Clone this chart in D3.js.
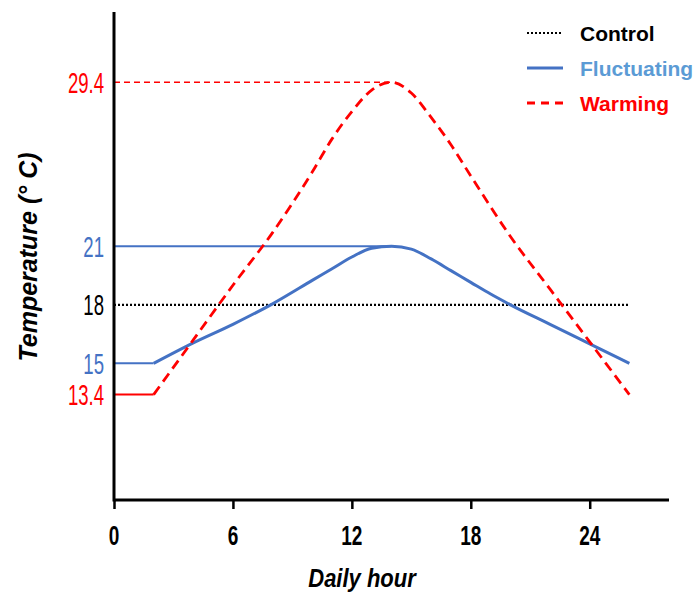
<!DOCTYPE html>
<html>
<head>
<meta charset="utf-8">
<script src="https://cdn.jsdelivr.net/npm/d3@7"></script>
<style>
  body { margin: 0; background: #fff; }
  svg { display: block; }
</style>
</head>
<body>
<div id="chart"></div>
<script>
// daily temperature regimes
const fluctHours = [2, 4, 6, 8, 10, 11, 12, 13, 14, 15, 16, 17, 18, 19, 20, 22, 24, 26];
const fluctuating = [15, 16.05, 17, 18.05, 19.25, 19.85, 20.45, 20.9, 21, 20.85, 20.35, 19.75, 19.15, 18.55, 18, 17, 16, 15];
const warmHours = [2, 4, 6, 8, 10, 11, 12, 13, 14, 15, 16, 17, 18, 20, 22, 24, 26];
const warming = [13.4, 16.2, 19.0, 21.7, 24.8, 26.5, 27.9, 29.0, 29.4, 28.85, 27.6, 26.2, 24.6, 21.5, 18.8, 16.1, 13.4];
const controlHours = [0, 26];
const controlTemp = [18, 18];
const xTicks = [0, 6, 12, 18, 24];
const yTicks = [29.4, 21, 18, 15, 13.4];
const yTickColors = ['#ff0000', '#4472c4', '#000000', '#4472c4', '#ff0000'];
const legendNames = ['Control', 'Fluctuating', 'Warming'];

const W = 697, H = 596;
const margin = { top: 12, right: 28, bottom: 96, left: 114 };
const width = W - margin.left - margin.right;
const height = H - margin.top - margin.bottom;

const svg = d3.select('#chart').append('svg')
    .attr('width', W)
    .attr('height', H);

const x = d3.scaleLinear().domain([0, 28]).range([margin.left, margin.left + width]);
const y = d3.scaleLinear().domain([8, 33]).range([margin.top + height, margin.top]);

const sans = '"Liberation Sans", Arial, sans-serif';

// helper for squeezed text like the original figure
function squeezed(g, tx, ty, str, opts) {
  return g.append('text')
      .attr('transform', `translate(${tx},${ty}) scale(${opts.sx},1)`)
      .attr('text-anchor', opts.anchor || 'middle')
      .attr('font-family', sans)
      .attr('font-size', opts.size)
      .attr('font-weight', opts.weight || 'normal')
      .attr('font-style', opts.style || 'normal')
      .attr('fill', opts.fill || '#000')
      .text(str);
}

const line = d3.line()
    .x(d => x(d[0]))
    .y(d => y(d[1]))
    .curve(d3.curveMonotoneX);

const flat = d3.line().x(d => x(d[0])).y(d => y(d[1]));

// reference lines to the y axis
svg.append('path')
    .datum([[0, 21], [14, 21]])
    .attr('d', flat)
    .attr('fill', 'none').attr('stroke', '#4472c4').attr('stroke-width', 2);

svg.append('path')
    .datum([[0, 29.4], [14, 29.4]])
    .attr('d', flat)
    .attr('fill', 'none').attr('stroke', '#ff0000').attr('stroke-width', 1.6)
    .attr('stroke-dasharray', '6,4');

// control
svg.append('path')
    .datum(controlHours.map((h, i) => [h, controlTemp[i]]))
    .attr('d', flat)
    .attr('fill', 'none').attr('stroke', '#000').attr('stroke-width', 2.2)
    .attr('stroke-dasharray', '2,2');

// flat starts (0-2h)
svg.append('path')
    .datum([[0, fluctuating[0]], [fluctHours[0], fluctuating[0]]])
    .attr('d', flat)
    .attr('fill', 'none').attr('stroke', '#4472c4').attr('stroke-width', 2);

svg.append('path')
    .datum([[0, warming[0]], [warmHours[0], warming[0]]])
    .attr('d', flat)
    .attr('fill', 'none').attr('stroke', '#ff0000').attr('stroke-width', 2);

// fluctuating
svg.append('path')
    .datum(fluctHours.map((h, i) => [h, fluctuating[i]]))
    .attr('d', line)
    .attr('fill', 'none').attr('stroke', '#4472c4').attr('stroke-width', 3);

// warming
svg.append('path')
    .datum(warmHours.map((h, i) => [h, warming[i]]))
    .attr('d', line)
    .attr('fill', 'none').attr('stroke', '#ff0000').attr('stroke-width', 2.8)
    .attr('stroke-dasharray', '10,6');

// axes
const xAxis = svg.append('g')
    .attr('transform', `translate(0,${y(8)})`)
    .call(d3.axisBottom(x).tickValues(xTicks).tickSize(9).tickFormat(''));
xAxis.select('.domain').attr('stroke', '#000').attr('stroke-width', 3)
    .attr('d', `M${x(0)},0H${x(28)}`);
xAxis.selectAll('.tick line').attr('stroke', '#000').attr('stroke-width', 2.5);

const yAxis = svg.append('g')
    .attr('transform', `translate(${x(0)},0)`)
    .call(d3.axisLeft(y).tickValues([]).tickSize(0));
yAxis.select('.domain').attr('stroke', '#000').attr('stroke-width', 3)
    .attr('d', `M0,${y(33)}V${y(8) + 1.5}`);

// tick labels
xTicks.forEach(t => {
  squeezed(svg, x(t), 545, t, { sx: 0.68, size: 28, weight: 'bold' });
});

yTicks.forEach((t, i) => {
  squeezed(svg, 104, y(t) + 10.5, t, { sx: 0.64, size: 29, anchor: 'end', fill: yTickColors[i] });
});

// axis titles
squeezed(svg, 362, 587, 'Daily hour', { sx: 0.88, size: 25, weight: 'bold', style: 'italic' });

svg.append('text')
    .attr('transform', 'translate(37,257) rotate(-90)')
    .attr('text-anchor', 'middle')
    .attr('font-family', sans)
    .attr('font-size', 25)
    .attr('font-weight', 'bold')
    .attr('font-style', 'italic')
    .text('Temperature (° C)');

// legend
const legend = svg.append('g');
const legendY = [33, 68, 103];
const legendStroke = [
  { c: '#000', w: 2.2, dash: '2,2' },
  { c: '#4472c4', w: 3, dash: null },
  { c: '#ff0000', w: 3, dash: '8,6' }
];
const legendText = ['#000', '#5b9bd5', '#ff0000'];
legendNames.forEach((name, i) => {
  legend.append('line')
      .attr('x1', 527).attr('x2', 563)
      .attr('y1', legendY[i]).attr('y2', legendY[i])
      .attr('stroke', legendStroke[i].c)
      .attr('stroke-width', legendStroke[i].w)
      .attr('stroke-dasharray', legendStroke[i].dash);
  legend.append('text')
      .attr('x', 580)
      .attr('y', legendY[i] + 8)
      .attr('font-family', sans)
      .attr('font-size', 21)
      .attr('font-weight', 'bold')
      .attr('fill', legendText[i])
      .text(name);
});
</script>
</body>
</html>
